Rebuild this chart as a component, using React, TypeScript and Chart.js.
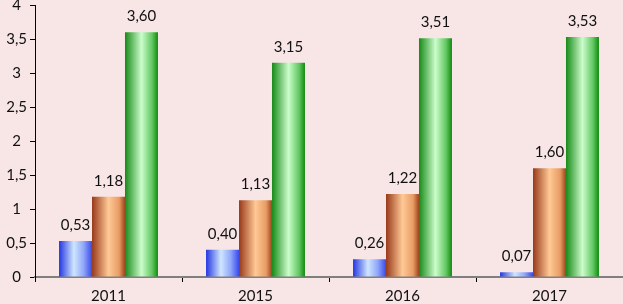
import React, { useEffect, useRef } from "react";
import { Chart, registerables } from "chart.js";

Chart.register(...registerables);

const categories = ["2011", "2015", "2016", "2017"];
const seriesBlue = [0.53, 0.4, 0.26, 0.07];
const seriesOrange = [1.18, 1.13, 1.22, 1.6];
const seriesGreen = [3.6, 3.15, 3.51, 3.53];
const yTicks = [0, 0.5, 1, 1.5, 2, 2.5, 3, 3.5, 4];

const CAT_PCT = 0.673;
const FONT = "Lato";

const blueStops: [number, string][] = [
  [0, "#2436e0"],
  [0.45, "#cfe6ff"],
  [0.75, "#8fa6fa"],
  [1, "#3a4ae8"],
];
const orangeStops: [number, string][] = [
  [0, "#98391a"],
  [0.5, "#ffc995"],
  [0.82, "#e89c64"],
  [1, "#9c431e"],
];
const greenStops: [number, string][] = [
  [0, "#178a17"],
  [0.5, "#ccfccc"],
  [0.82, "#62c862"],
  [1, "#0f8a0f"],
];

function fmt(v: number) {
  return v.toFixed(2).replace(".", ",");
}

function gradientFor(stops: [number, string][]) {
  return (ctx: any) => {
    const chart = ctx.chart;
    const xs = chart.scales && chart.scales.x;
    if (!xs || !chart.chartArea || ctx.dataIndex === undefined) return stops[1][1];
    const cat = xs.width / categories.length;
    const w = (cat * CAT_PCT) / 3;
    const cx = xs.getPixelForValue(ctx.dataIndex) + (ctx.datasetIndex - 1) * w;
    const g = chart.ctx.createLinearGradient(cx - w / 2, 0, cx + w / 2, 0);
    stops.forEach(([p, c]) => g.addColorStop(p, c));
    return g;
  };
}

const labelPlugin = {
  id: "valueLabels",
  afterDatasetsDraw(chart: any) {
    const c = chart.ctx;
    c.save();
    c.font = `15px ${FONT}`;
    c.fillStyle = "#111";
    c.textAlign = "center";
    c.textBaseline = "middle";
    chart.data.datasets.forEach((ds: any, di: number) => {
      const meta = chart.getDatasetMeta(di);
      meta.data.forEach((el: any, i: number) => {
        c.fillText(fmt(ds.data[i]), el.x, el.y - 16);
      });
    });
    c.restore();
  },
};

export default function App() {
  const ref = useRef<HTMLCanvasElement>(null);
  useEffect(() => {
    document.body.style.margin = "0";
    document.body.style.background = "#f8e5e5";
    const canvas = ref.current!;
    const chart = new Chart(canvas, {
      type: "bar",
      data: {
        labels: categories,
        datasets: [
          { data: seriesBlue, backgroundColor: gradientFor(blueStops) },
          { data: seriesOrange, backgroundColor: gradientFor(orangeStops) },
          { data: seriesGreen, backgroundColor: gradientFor(greenStops) },
        ],
      },
      options: {
        responsive: false,
        animation: false,
        devicePixelRatio: 1,
        layout: { padding: { top: 5, right: 0, left: 0, bottom: 0 } },
        datasets: {
          bar: { barPercentage: 1, categoryPercentage: CAT_PCT, borderWidth: 0 },
        },
        plugins: {
          legend: { display: false },
          tooltip: { enabled: false },
        },
        scales: {
          x: {
            grid: {
              display: true,
              drawOnChartArea: false,
              drawTicks: true,
              tickLength: 5,
              color: "#000",
              offset: true,
            },
            border: { display: true, color: "#7f7f7f", width: 2 },
            ticks: {
              color: "#111",
              font: { family: FONT, size: 15 },
              padding: 5,
              maxRotation: 0,
            },
            afterFit: (s: any) => {
              s.height = 27;
              s.paddingLeft = 0;
              s.paddingRight = 0;
            },
          },
          y: {
            min: 0,
            max: 4,
            afterBuildTicks: (s: any) => {
              s.ticks = yTicks.map((v) => ({ value: v }));
            },
            grid: {
              display: true,
              drawOnChartArea: false,
              drawTicks: true,
              tickLength: 5,
              color: "#000",
            },
            border: { display: true, color: "#000", width: 1 },
            ticks: {
              color: "#111",
              font: { family: FONT, size: 15 },
              padding: 3,
              crossAlign: "center",
              callback: (v: any) => String(v).replace(".", ","),
            },
            afterFit: (s: any) => {
              s.width = 35;
              s.paddingTop = 0;
              s.paddingBottom = 0;
            },
          },
        },
      },
      plugins: [labelPlugin],
    } as any);
    return () => chart.destroy();
  }, []);
  return (
    <div style={{ width: 623, height: 304, background: "#f8e5e5" }}>
      <canvas ref={ref} width={623} height={304} style={{ display: "block" }} />
    </div>
  );
}
